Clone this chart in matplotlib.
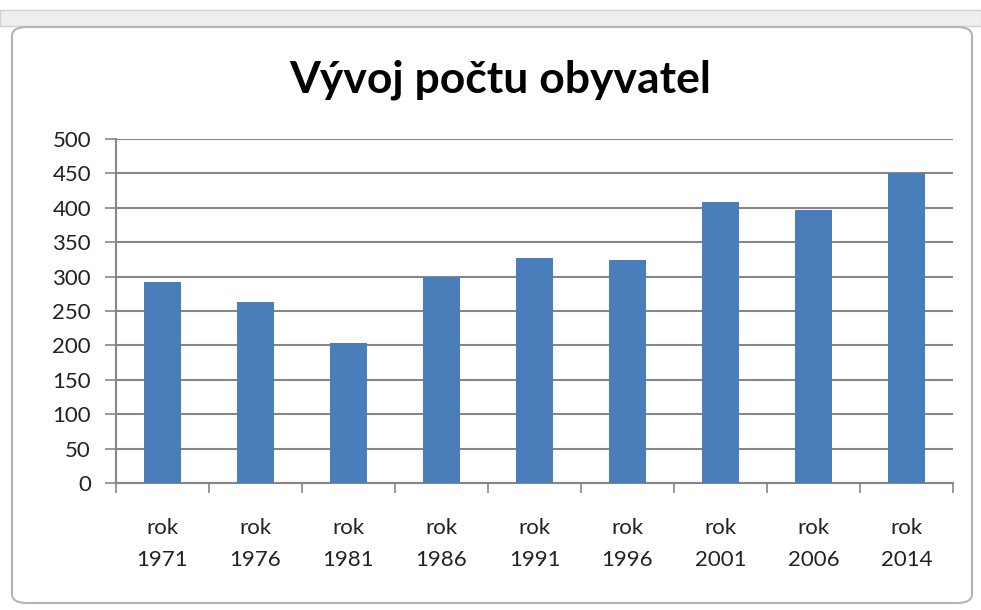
import matplotlib.pyplot as plt
from matplotlib.patches import FancyBboxPatch, Rectangle

plt.rcParams["font.family"] = ["Lato", "DejaVu Sans"]

# Data
years = ["1971", "1976", "1981", "1986", "1991", "1996", "2001", "2006", "2014"]
labels = ["rok\n" + y for y in years]
population = [292, 263, 204, 300, 327, 324, 408, 397, 451]
y_ticks = [0, 50, 100, 150, 200, 250, 300, 350, 400, 450, 500]

W, H = 981, 610
fig = plt.figure(figsize=(W / 100, H / 100), dpi=100)
fig.patch.set_facecolor("white")

# spreadsheet strip on top + chart frame (behind the axes)
fig.patches.append(Rectangle((0, 1 - 26 / H), 1, 16 / H, transform=fig.transFigure,
                             facecolor="#eeeeee", edgecolor="#d0d0d0", lw=1, zorder=-2))
fig.patches.append(FancyBboxPatch((12 / W, 1 - 603 / H), 960 / W, 576 / H,
                                  boxstyle="round,pad=0,rounding_size=0.015",
                                  transform=fig.transFigure,
                                  facecolor="white", edgecolor="#b5b5b5", lw=1.5,
                                  zorder=-1))

ax = fig.add_axes([116 / W, 1 - 483 / H, (953 - 116) / W, (483 - 139) / H])
ax.set_facecolor("none")

x = range(len(years))
ax.bar(x, population, width=0.4, color="#4A7EBB", zorder=3)

ax.set_ylim(0, 500)
ax.set_xlim(-0.5, len(years) - 0.5)
ax.set_yticks(y_ticks)
ax.yaxis.grid(True, color="#868686", lw=1.5, zorder=0)

ax.set_xticks(list(x))
ax.set_xticklabels(labels, linespacing=1.75)
ax.set_xticks([i - 0.5 for i in range(len(years) + 1)], minor=True)
ax.tick_params(axis="x", which="major", length=0, pad=25, labelsize=16, colors="#222222")
ax.tick_params(axis="x", which="minor", length=7, width=1.2, color="#868686")
ax.tick_params(axis="y", length=8, width=1.2, color="#868686", pad=10,
               labelsize=16, labelcolor="#222222")

for s in ["top", "right"]:
    ax.spines[s].set_visible(False)
for s in ["left", "bottom"]:
    ax.spines[s].set_color("#868686")
    ax.spines[s].set_linewidth(1.5)

fig.text(500 / W, 1 - 80 / H, "Vývoj počtu obyvatel", ha="center", va="center",
         fontsize=32, fontweight="bold", color="black")

fig.savefig("out.png", dpi=100)
